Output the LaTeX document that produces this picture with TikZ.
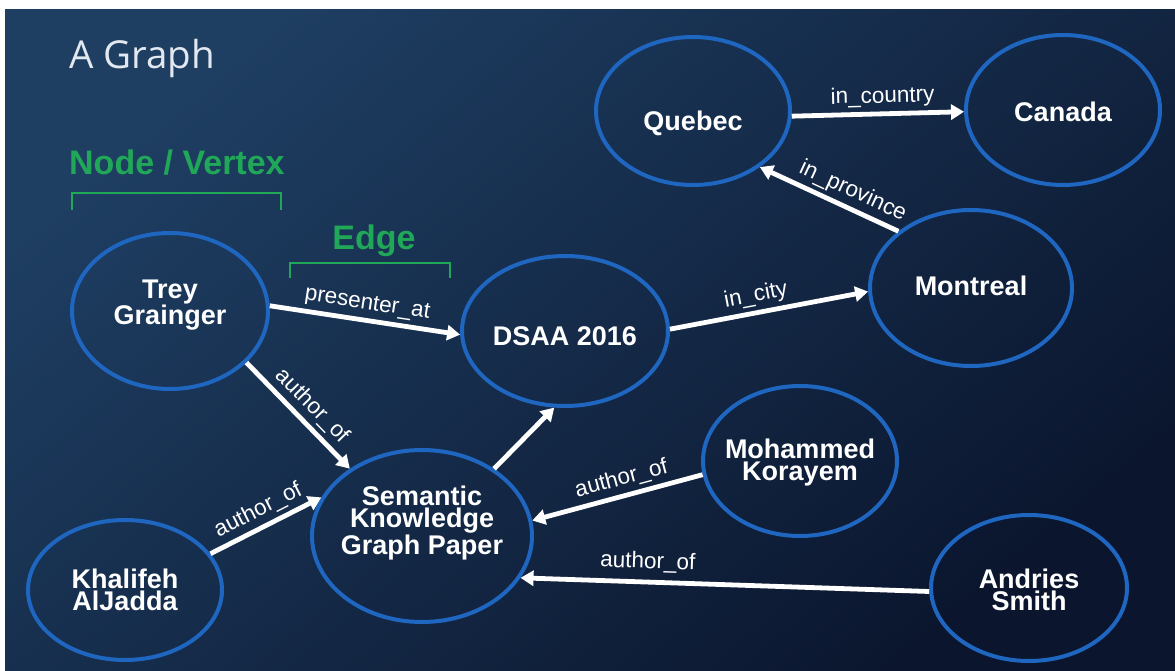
\documentclass[tikz,border=0pt]{standalone}
\usepackage{fontspec}
\setmainfont{Liberation Sans}
\newfontfamily\titlefont{Open Sans}
\usetikzlibrary{arrows.meta,shapes.geometric}
\definecolor{bgA}{RGB}{30,62,98}
\definecolor{bgB}{RGB}{11,22,46}
\definecolor{ringblue}{RGB}{30,102,192}
\definecolor{labgreen}{RGB}{32,168,88}
\definecolor{titlegray}{RGB}{226,232,240}
\begin{document}
\begin{tikzpicture}[x=1pt,y=-1pt,
  vtx/.style={ellipse, draw=ringblue, line width=4pt, inner sep=0pt},
  vtxt/.style={text=white, inner sep=0pt, align=center,
    font=\fontsize{27}{22}\selectfont\bfseries},
  rel/.style={draw=white, line width=4.8pt, -{Triangle[length=13pt,width=15pt]}},
  lab/.style={text=white, font=\fontsize{22.5}{24}\selectfont, sloped, above, inner sep=4pt},
  brk/.style={draw=labgreen, line width=1.2pt},
  hdr/.style={text=labgreen, font=\fontsize{34}{36}\selectfont\bfseries, inner sep=0pt}
]
\useasboundingbox (0,0) rectangle (1175,671);
\fill[white] (0,0) rectangle (1175,671);
\shade[top color=bgA, bottom color=bgB, shading angle=40] (5,10) rectangle (1175,671);

% headings
\node[anchor=west, text=titlegray, font=\titlefont\fontsize{38.5}{40}\selectfont, inner sep=0pt] (title) at (69,59) {A Graph};
\node[hdr, anchor=west] (nv) at (69,163) {Node / Vertex};
\node[hdr] (edgehdr) at (374,241) {Edge};
\draw[brk] (72,210) -- (72,193) -- (281,193) -- (281,210);
\draw[brk] (290,278) -- (290,263) -- (450,263) -- (450,278);

% vertices
\node[vtx, minimum width=196pt, minimum height=156pt,
  label={[vtxt, yshift=6pt]center:Trey\\Grainger}] (trey) at (170,311) {};
\node[vtx, minimum width=206pt, minimum height=150pt,
  label={[vtxt, yshift=-5pt]center:DSAA 2016}] (dsaa) at (565,331) {};
\node[vtx, minimum width=220pt, minimum height=172pt,
  label={[vtxt, yshift=13pt]center:Semantic\\Knowledge\\Graph Paper}] (skg) at (422,536) {};
\node[vtx, minimum width=194pt, minimum height=140pt,
  label={[vtxt]center:Khalifeh\\AlJadda}] (khal) at (125,590) {};
\node[vtx, minimum width=202pt, minimum height=156pt,
  label={[vtxt, yshift=2pt]center:Montreal}] (mtl) at (971,288) {};
\node[vtx, minimum width=194pt, minimum height=148pt,
  label={[vtxt, yshift=-12pt]center:Quebec}] (queb) at (693,111) {};
\node[vtx, minimum width=194pt, minimum height=150pt,
  label={[vtxt, yshift=-2pt]center:Canada}] (can) at (1063,110) {};
\node[vtx, minimum width=194pt, minimum height=150pt,
  label={[vtxt, yshift=-2pt]center:Mohammed\\Korayem}] (moh) at (800,461) {};
\node[vtx, minimum width=196pt, minimum height=146pt,
  label={[vtxt, yshift=-2pt]center:Andries\\Smith}] (andr) at (1029,588) {};

% edges
\draw[rel] (trey.3.5) -- node[lab] {presenter\_at} (dsaa.182.2);
\draw[rel] (dsaa.1.7) -- node[lab, pos=0.45] {in\_city} (mtl.182.3);
\draw[rel] (mtl.142) -- node[lab, pos=0.38] {in\_province} (queb.320);
\draw[rel] (queb.357.6) -- node[lab, pos=0.53] {in\_country} (can.181.8);
\draw[rel] (trey.-34) -- node[lab, pos=0.52] {author\_of} (skg.137.3);
\draw[rel] (khal.23.9) -- node[lab, pos=0.5] {author\_of} (skg.159.6);
\draw[rel] (skg.43.4) -- (dsaa.262.8);
\draw[rel] (moh.188.4) -- node[lab, pos=0.45] {author\_of} (skg.8.2);
\draw[rel] (andr.182.4) -- node[lab, pos=0.69, inner sep=7pt] {author\_of} (skg.337.2);
\end{tikzpicture}
\end{document}
